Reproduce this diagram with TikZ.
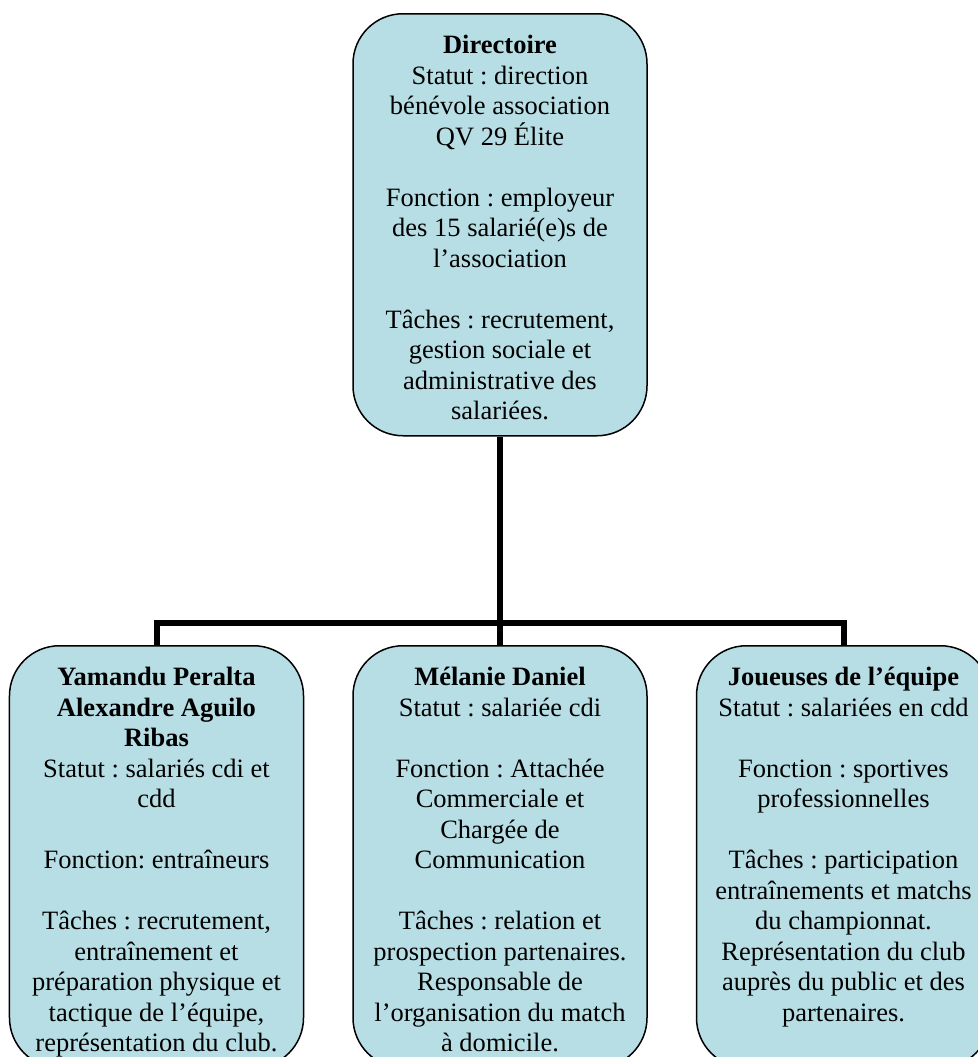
\documentclass[tikz,border=0pt]{standalone}
\usepackage{fontspec}
\setmainfont{Liberation Serif}
\usetikzlibrary{positioning}
\definecolor{boxblue}{RGB}{183,222,228}
\frenchspacing

\tikzset{
  orgbox/.style={draw=black, line width=1.5bp, fill=boxblue, rounded corners=50bp,
    minimum width=294bp, minimum height=422bp, inner sep=0pt, anchor=north},
  link/.style={line width=6bp}
}
\newcommand{\boxtext}[1]{\parbox[c][385bp][t]{290bp}{\centering
  \fontsize{26.5bp}{30.5bp}\selectfont\strut #1}}

\begin{document}
\begin{tikzpicture}[x=1bp,y=-1bp]
    \useasboundingbox (0,0) rectangle (978,1057);
    \clip (0,0) rectangle (978,1057);
    % top of the chart
    \node [orgbox] (dir) at (500,13) {\boxtext{\textbf{Directoire}\\
      Statut : direction\\
      bénévole association\\
      QV 29 Élite\\[30.5bp]
      Fonction : employeur\\
      des 15 salarié(e)s de\\
      l’association\\[30.5bp]
      Tâches : recrutement,\\
      gestion sociale et\\
      administrative des\\
      salariées.}};
    % the three boxes below
    \node [orgbox] (coach) at (156.5,645) {\boxtext{\textbf{Yamandu Peralta}\\
      \textbf{Alexandre Aguilo}\\
      \textbf{Ribas}\\
      Statut : salariés cdi et\\
      cdd\\[30.5bp]
      Fonction: entraîneurs\\[30.5bp]
      Tâches : recrutement,\\
      entraînement et\\
      préparation physique et\\
      tactique de l’équipe,\\
      représentation du club.}};
    \node [orgbox] (manager) at (500,645) {\boxtext{\textbf{Mélanie Daniel}\\
      Statut : salariée cdi\\[30.5bp]
      Fonction : Attachée\\
      Commerciale et\\
      Chargée de\\
      Communication\\[30.5bp]
      Tâches : relation et\\
      prospection partenaires.\\
      Responsable de\\
      l’organisation du match\\
      à domicile.}};
    \node [orgbox] (players) at (843.5,645) {\boxtext{\textbf{Joueuses de l’équipe}\\
      Statut : salariées en cdd\\[30.5bp]
      Fonction : sportives\\
      professionnelles\\[30.5bp]
      Tâches : participation\\
      entraînements et matchs\\
      du championnat.\\
      Représentation du club\\
      auprès du public et des\\
      partenaires.}};
    % connectors
    \coordinate (bar) at (500,623);
    \draw [link] (dir.south) -- (manager.north);
    \draw [link] (coach.north) |- (bar) -| (players.north);
  \end{tikzpicture}
\end{document}
